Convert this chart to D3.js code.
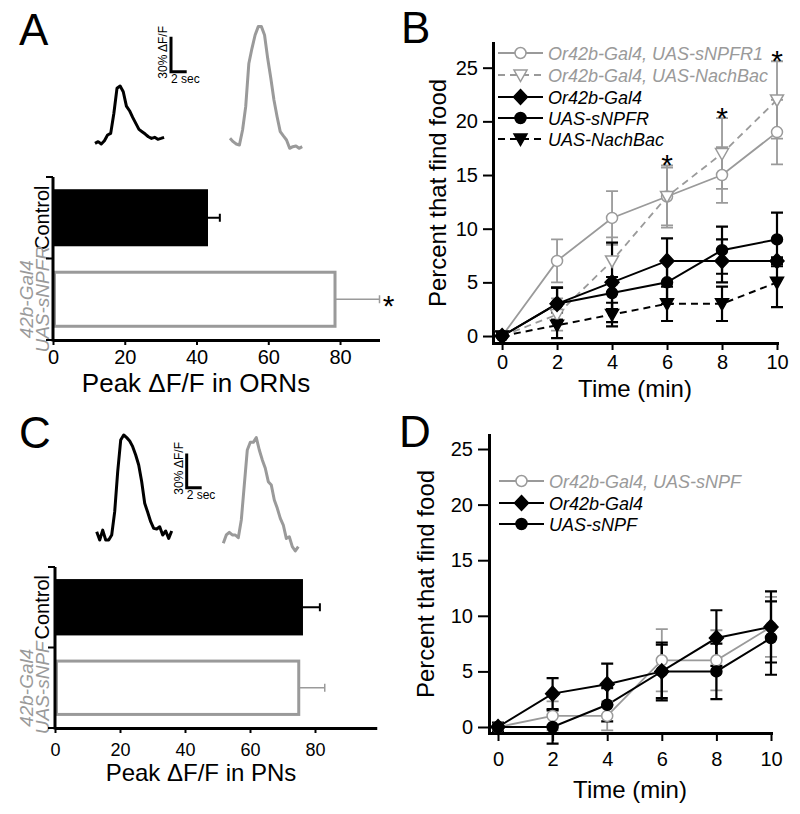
<!DOCTYPE html>
<html><head><meta charset="utf-8">
<script src="https://cdn.jsdelivr.net/npm/d3@7"></script>
<style>
body{margin:0;background:#fff}
svg{display:block;font-family:"Liberation Sans",Arial,sans-serif}
</style>
</head><body>
<svg id="fig" width="800" height="814"></svg>
<script>
// ---------------- DATA ----------------
// Panel A (ORNs)
const aCategories = ["Control", "42b-Gal4|UAS-sNPFR"];
const aValues = [43.2, 78.6];
const aErrors = [3.3, 12.4];
const aTicks = [0, 20, 40, 60, 80];
// Panel C (PNs)
const cCategories = ["Control", "42b-Gal4|UAS-sNPF"];
const cValues = [76.3, 75.0];
const cErrors = [5.2, 8.0];
const cTicks = [0, 20, 40, 60, 80];
// calcium traces, ΔF/F (%) sampled every 0.4 s
const traceStep = 0.4;
const aTraceControl = [-0.6,0.9,-1.1,1.7,6.6,8,25,46.6,48.6,43.7,31.4,27.4,21.7,16.6,11.4,9.4,7.4,5.1,3.7,4.6,2.9,3.7,4.6];
const aTraceSNPFR = [4.9,2,0,-0.9,12,32,69,82,93.4,100.6,100.6,93.4,73.4,56.3,37.7,23.4,10.6,6.9,3.4,-3.7,-2.3,-1.7,-3.7,-2.3];
const cTraceControl = [4.4,-2.9,5.8,-2.9,-2.9,1.5,21.9,56.9,84.5,88.9,86.6,83.7,78.7,71.4,62.7,48.1,29.2,21.3,13.1,7.3,6.7,8.7,1.5,5,-1.5,5];
const cTraceSNPF = [-5.8,1.5,3.8,1.5,1.5,-0.9,14.6,45.2,75.8,82.5,82.5,86.6,75.8,67.1,59.8,48.1,45.2,32.1,24.8,16,10.2,-1.5,0,-8.7,-12.5,-8.7];
const scaleBarPct = 30, scaleBarSec = 2;

// Panels B and D (time course)
const times = [0, 2, 4, 6, 8, 10];
const yTicks = [0, 5, 10, 15, 20, 25];
const bLabels = ["Or42b-Gal4, UAS-sNPFR1", "Or42b-Gal4, UAS-NachBac", "Or42b-Gal4", "UAS-sNPFR", "UAS-NachBac"];
const bSNPFR1 = [0, 7, 11, 13, 15, 19];
const bSNPFR1Err = [0, 2.0, 2.5, 2.9, 2.6, 3.0];
const bNachBac = [0, 2, 7, 13, 17, 22];
const bNachBacErr = [0, 1.5, 2.2, 2.7, 3.3, 3.6];
const bGal4 = [0, 3, 5, 7, 7, 7];
const bGal4Err = [0, 1.5, 3.7, 2.1, 2.0, 0.3];
const bSNPFR = [0, 3, 4, 5, 8, 9];
const bSNPFRErr = [0, 1.5, 1.5, 2.0, 2.2, 2.5];
const bUASNachBac = [0, 1, 2, 3, 3, 5];
const bUASNachBacErr = [0, 1.2, 1.1, 1.6, 1.6, 2.3];
const bStarTimes = [6, 8, 10];

const dLabels = ["Or42b-Gal4, UAS-sNPF", "Or42b-Gal4", "UAS-sNPF"];
const dSNPF = [0, 1, 1, 6, 6, 9];
const dSNPFErr = [0, 1.3, 1.3, 2.8, 2.7, 2.7];
const dGal4 = [0, 3, 3.85, 5, 8, 9];
const dGal4Err = [0.4, 1.4, 1.85, 2.4, 2.5, 3.2];
const dUAS = [0, 0, 2, 5, 5, 8];
const dUASErr = [0, 1.5, 1.5, 2.6, 2.5, 3.3];

// ---------------- DRAWING ----------------
const GRAY = "#9a9a9a";
const svg = d3.select("#fig");

function letter(t, x, y) {
  svg.append("text").attr("x", x).attr("y", y).attr("font-size", 44).text(t);
}
letter("A", 19, 45); letter("B", 401, 43); letter("C", 19, 448); letter("D", 399, 447);

// ---- traces ----
function drawTrace(data, x0, y0, pxPerSec, pxPerPct, color) {
  const sx = d3.scaleLinear().domain([0, 1]).range([x0, x0 + pxPerSec]);
  const sy = d3.scaleLinear().domain([0, 1]).range([y0, y0 - pxPerPct]);
  svg.append("path").datum(data)
    .attr("d", d3.line().x((d, i) => sx(i * traceStep)).y(d => sy(d)))
    .attr("fill", "none").attr("stroke", color).attr("stroke-width", 3)
    .attr("stroke-linejoin", "round");
}
function drawScaleBar(x0, y0, pxPerSec, pxPerPct, fs) {
  const g = svg.append("g");
  g.append("path")
    .attr("d", `M${x0},${y0 - scaleBarPct * pxPerPct}V${y0}H${x0 + scaleBarSec * pxPerSec}`)
    .attr("fill", "none").attr("stroke", "#000").attr("stroke-width", 3);
  g.append("text").attr("transform", `translate(${x0 - 4},${y0 + 7}) rotate(-90)`)
    .attr("font-size", fs).text(`${scaleBarPct}% ΔF/F`);
  g.append("text").attr("x", x0).attr("y", y0 + 11).attr("font-size", fs).text(`${scaleBarSec} sec`);
}
drawTrace(aTraceControl, 95, 142.7, 7.85, 1.167, "#000");
drawTrace(aTraceSNPFR, 230, 144, 7.85, 1.167, GRAY);
drawScaleBar(171, 71.7, 7.85, 1.167, 12);
drawTrace(cTraceControl, 96.7, 536.7, 7.5, 1.144, "#000");
drawTrace(cTraceSNPF, 223.3, 536.7, 7.5, 1.144, GRAY);
drawScaleBar(186.7, 487.7, 7.5, 1.144, 12);

// ---- bar panels ----
function barPanel(o) {
  const g = svg.append("g");
  const x = d3.scaleLinear().domain([0, o.xMax]).range([o.x0, o.x1]);
  const y = d3.scaleBand().domain(o.cats).range([o.y0, o.y1]).paddingInner(0.3).paddingOuter(0.15);
  const colors = ["#000", GRAY];
  o.cats.forEach((c, i) => {
    if (i === 0) {
      g.append("rect").attr("x", x(0)).attr("y", y(c)).attr("width", x(o.vals[i]) - x(0))
        .attr("height", y.bandwidth()).attr("fill", "#000");
    } else {
      g.append("rect").attr("x", x(0) + 1.5).attr("y", y(c) + 1.5).attr("width", x(o.vals[i]) - x(0) - 1.5)
        .attr("height", y.bandwidth() - 3).attr("fill", "#fff").attr("stroke", GRAY).attr("stroke-width", 3);
    }
    const cy = y(c) + y.bandwidth() / 2;
    g.append("path")
      .attr("d", `M${x(o.vals[i])},${cy}H${x(o.vals[i] + o.errs[i])}M${x(o.vals[i] + o.errs[i])},${cy - 4}V${cy + 4}`)
      .attr("stroke", colors[i]).attr("stroke-width", i === 0 ? 2 : 1.5).attr("fill", "none");
    if (i === 0) {
      g.append("text").attr("transform", `translate(${o.labX},${cy}) rotate(-90)`)
        .attr("text-anchor", "middle").attr("font-size", 20).text(c);
    } else {
      const parts = c.split("|");
      parts.forEach((p, k) => {
        g.append("text").attr("transform", `translate(${o.labX - (parts.length - 1 - k) * 16.5},${cy}) rotate(-90)`)
          .attr("text-anchor", "middle").attr("font-size", 19).attr("font-style", "italic")
          .attr("fill", GRAY).text(p);
      });
    }
  });
  const step = y.step();
  const yT = [o.y0, y(o.cats[1]) - step * 0.15, o.y1];
  g.append("line").attr("x1", o.x0).attr("x2", o.x0).attr("y1", o.y0).attr("y2", o.y1 + 1.5)
    .attr("stroke", "#000").attr("stroke-width", 3);
  yT.forEach(t => g.append("line").attr("x1", o.x0 - 7).attr("x2", o.x0).attr("y1", t).attr("y2", t)
    .attr("stroke", "#000").attr("stroke-width", 2));
  const ax = g.append("g").attr("transform", `translate(0,${o.y1})`)
    .call(d3.axisBottom(x).tickValues(o.ticks).tickSize(5).tickPadding(o.tickPad).tickSizeOuter(0));
  ax.attr("font-size", null).attr("font-family", null);
  ax.selectAll("text").attr("font-size", o.tickFs);
  ax.select(".domain").attr("stroke-width", 3);
  ax.selectAll(".tick line").attr("stroke-width", 2);
  g.append("text").attr("x", o.titleX).attr("y", o.titleY).attr("text-anchor", "middle")
    .attr("font-size", o.titleFs).text(o.title);
  return {x, y};
}
const A = barPanel({cats: aCategories, vals: aValues, errs: aErrors, ticks: aTicks, xMax: 91,
  x0: 53, x1: 379.5, y0: 177, y1: 340, labX: 49, tickPad: 5, tickFs: 20,
  title: "Peak ΔF/F in ORNs", titleX: 196, titleY: 392, titleFs: 26});
svg.append("text").attr("x", A.x(aValues[1] + aErrors[1]) + 9)
  .attr("y", A.y(aCategories[1]) + A.y.bandwidth() / 2 + 17).attr("text-anchor", "middle")
  .attr("font-size", 30).text("*");
barPanel({cats: cCategories, vals: cValues, errs: cErrors, ticks: cTicks, xMax: 99,
  x0: 55, x1: 376.75, y0: 567, y1: 728, labX: 49, tickPad: 10, tickFs: 18,
  title: "Peak ΔF/F in PNs", titleX: 201, titleY: 781, titleFs: 24});

// ---- line panels ----
function marker(g, type, cx, cy, fill, stroke) {
  let p;
  if (type === "circle") {
    return g.append("circle").attr("cx", cx).attr("cy", cy).attr("r", 5.5)
      .attr("fill", fill).attr("stroke", stroke).attr("stroke-width", 1.5);
  } else if (type === "diamond") {
    p = `M${cx},${cy - 7.5}L${cx + 7},${cy}L${cx},${cy + 7.5}L${cx - 7},${cy}Z`;
  } else {
    p = `M${cx - 6.5},${cy - 5}L${cx + 6.5},${cy - 5}L${cx},${cy + 6.5}Z`;
  }
  return g.append("path").attr("d", p).attr("fill", fill).attr("stroke", stroke).attr("stroke-width", 1.5);
}

function linePanel(o) {
  const g = svg.append("g");
  const x = d3.scaleLinear().domain(o.xDom).range(o.xRange);
  const y = d3.scaleLinear().domain(o.yDom).range(o.yRange);
  const ya = g.append("g").attr("transform", `translate(${o.xRange[0]},0)`)
    .call(d3.axisLeft(y).tickValues(yTicks).tickSize(o.yTickSize).tickPadding(5).tickSizeOuter(0));
  const xa = g.append("g").attr("transform", `translate(0,${o.yRange[0]})`)
    .call(d3.axisBottom(x).tickValues(times).tickSize(o.xTickSize).tickPadding(o.xTickPad).tickSizeOuter(0));
  [ya, xa].forEach(a => {
    a.attr("font-size", null).attr("font-family", null);
    a.selectAll("text").attr("font-size", 20);
    a.select(".domain").attr("stroke-width", 3).attr("stroke-linecap", "square");
    a.selectAll(".tick line").attr("stroke-width", 2);
  });
  g.append("text").attr("x", (o.xRange[0] + o.xRange[1]) / 2).attr("y", o.xTitleY)
    .attr("text-anchor", "middle").attr("font-size", 24).text("Time (min)");
  g.append("text").attr("transform", `translate(${o.yTitleX},${(o.yRange[0] + o.yRange[1]) / 2}) rotate(-90)`)
    .attr("text-anchor", "middle").attr("font-size", 24).text("Percent that find food");

  const line = d3.line().x((d, i) => x(times[i])).y(d => y(d));
  o.series.forEach(s => {
    g.append("path").datum(s.vals).attr("d", line).attr("fill", "none")
      .attr("stroke", s.color).attr("stroke-width", s.color === GRAY ? 1.8 : 2)
      .attr("stroke-dasharray", s.dash ? "7,5" : null);
  });
  o.series.forEach(s => {
    s.vals.forEach((v, i) => {
      const e = s.errs[i];
      if (e <= 0) return;
      const cx = x(times[i]);
      g.append("path")
        .attr("d", `M${cx},${y(v - e)}V${y(v + e)}M${cx - 6},${y(v + e)}H${cx + 6}M${cx - 6},${y(v - e)}H${cx + 6}`)
        .attr("stroke", s.color).attr("stroke-width", s.color === GRAY ? 1.8 : 2.2).attr("fill", "none");
    });
  });
  o.series.forEach(s => {
    s.vals.forEach((v, i) => marker(g, s.marker, x(times[i]), y(v), s.fill, s.color));
  });
  o.series.forEach((s, k) => {
    const ly = o.legY[k];
    g.append("line").attr("x1", o.legX0).attr("x2", o.legX1).attr("y1", ly).attr("y2", ly)
      .attr("stroke", s.color).attr("stroke-width", 2).attr("stroke-dasharray", s.dash ? "7,5" : null);
    marker(g, s.marker, (o.legX0 + o.legX1) / 2, ly, s.fill, s.color);
    g.append("text").attr("x", o.legX1 + 5).attr("y", ly + 6.5).attr("font-size", 18)
      .attr("font-style", "italic").attr("fill", s.color).text(s.label);
  });
  return {g, x, y};
}

const B = linePanel({
  xDom: [-0.33, 10], xRange: [493, 777], yDom: [-0.65, 27.3], yRange: [343, 43],
  yTickSize: 10, xTickSize: 7, xTickPad: 5, xTitleY: 397, yTitleX: 446,
  legX0: 498, legX1: 543, legY: [53, 75, 97, 118, 139],
  series: [
    {label: bLabels[0], vals: bSNPFR1, errs: bSNPFR1Err, color: GRAY, dash: false, marker: "circle", fill: "#fff"},
    {label: bLabels[1], vals: bNachBac, errs: bNachBacErr, color: GRAY, dash: true, marker: "tri", fill: "#fff"},
    {label: bLabels[2], vals: bGal4, errs: bGal4Err, color: "#000", dash: false, marker: "diamond", fill: "#000"},
    {label: bLabels[3], vals: bSNPFR, errs: bSNPFRErr, color: "#000", dash: false, marker: "circle", fill: "#000"},
    {label: bLabels[4], vals: bUASNachBac, errs: bUASNachBacErr, color: "#000", dash: true, marker: "tri", fill: "#000"}
  ]
});
bStarTimes.forEach(t => {
  const i = times.indexOf(t);
  const top = Math.max(bSNPFR1[i] + bSNPFR1Err[i], bNachBac[i] + bNachBacErr[i]);
  B.g.append("text").attr("x", B.x(t)).attr("y", B.y(top) + 10).attr("text-anchor", "middle")
    .attr("font-size", 30).text("*");
});

linePanel({
  xDom: [-0.33, 10], xRange: [489, 771], yDom: [-0.54, 26.26], yRange: [733, 435],
  yTickSize: 11, xTickSize: 8, xTickPad: 11, xTitleY: 798, yTitleX: 434,
  legX0: 499, legX1: 544, legY: [481, 503, 524],
  series: [
    {label: dLabels[0], vals: dSNPF, errs: dSNPFErr, color: GRAY, dash: false, marker: "circle", fill: "#fff"},
    {label: dLabels[1], vals: dGal4, errs: dGal4Err, color: "#000", dash: false, marker: "diamond", fill: "#000"},
    {label: dLabels[2], vals: dUAS, errs: dUASErr, color: "#000", dash: false, marker: "circle", fill: "#000"}
  ]
});
</script>
</body></html>
